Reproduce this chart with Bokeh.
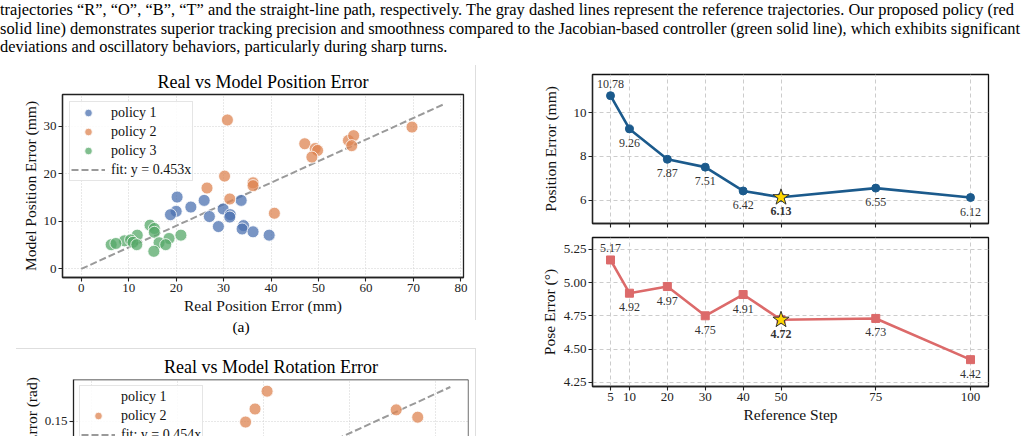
import math
from bokeh.plotting import figure
from bokeh.layouts import column, row
from bokeh.models import (Div, Spacer, FixedTicker, Legend, LegendItem, Span, Title,
                          ColumnDataSource, Grid, PrintfTickFormatter, CustomJSTickFormatter)
from bokeh.embed import file_html
from bokeh.resources import INLINE
from bokeh.core.properties import value

FONT = "Liberation Serif"

# ---------------- text ----------------
caption_lines = [
    "trajectories \u201cR\u201d, \u201cO\u201d, \u201cB\u201d, \u201cT\u201d and the straight-line path, respectively. The gray dashed lines represent the reference trajectories. Our proposed policy (red",
    "solid line) demonstrates superior tracking precision and smoothness compared to the Jacobian-based controller (green solid line), which exhibits significant",
    "deviations and oscillatory behaviors, particularly during sharp turns.",
]
sub_a_label = "(a)"

# ---------------- scatter (a): position error ----------------
pos_title = "Real vs Model Position Error"
p1_real = [20.2, 25.9, 33.7, 23.1, 20.0, 18.8, 29.9, 27.0, 31.4, 31.3, 28.9, 34.2, 33.9, 36.2, 39.6]
p1_model = [15.1, 14.4, 14.4, 13.0, 12.1, 11.4, 12.6, 11.0, 11.4, 10.9, 8.9, 9.1, 8.4, 7.8, 7.1]
p2_real = [30.8, 47.1, 49.3, 49.8, 48.6, 56.3, 57.4, 57.0, 69.7, 30.2, 26.5, 36.2, 36.2, 31.3, 40.7]
p2_model = [31.3, 26.3, 25.3, 24.9, 23.5, 27.0, 28.0, 25.9, 29.8, 19.5, 17.0, 18.1, 17.5, 14.7, 11.7]
p3_real = [14.5, 15.4, 15.4, 11.8, 21.0, 18.5, 9.1, 10.4, 10.9, 11.7, 16.4, 17.8, 6.3, 7.3, 15.3]
p3_model = [9.2, 8.5, 7.7, 7.1, 7.1, 6.4, 5.9, 6.1, 5.6, 5.1, 5.5, 5.1, 5.1, 5.35, 3.7]
pos_fit_slope = 0.453
pos_xticks = [0, 10, 20, 30, 40, 50, 60, 70, 80]
pos_yticks = [0, 10, 20, 30]

# ---------------- scatter (b): rotation error (visible part) ----------------
rot_title = "Real vs Model Rotation Error"
rot_ylabel = "Model Rotation Error (rad)"
rot_p1_real = []
rot_p1_model = []
rot_p2_real = [0.179, 0.190, 0.204, 0.354, 0.379]
rot_p2_model = [0.149, 0.164, 0.1845, 0.163, 0.1546]
rot_fit_slope = 0.454
rot_xticks = [0.0, 0.1, 0.2, 0.3, 0.4]
rot_yticks = [0.05, 0.10, 0.15]

# ---------------- line charts ----------------
steps = [5, 10, 20, 30, 40, 50, 75, 100]
pos_err = [10.78, 9.26, 7.87, 7.51, 6.42, 6.13, 6.55, 6.12]
pose_err = [5.17, 4.92, 4.97, 4.75, 4.91, 4.72, 4.73, 4.42]
best_idx = 5
pos_ticks = [6, 8, 10]
pose_ticks = [4.25, 4.50, 4.75, 5.00, 5.25]

C1, C2, C3 = "#4C72B0", "#DD8452", "#55A868"
BLUE_LINE = "#1b5a8c"
RED_LINE = "#dc6a6a"
TICK_SIZE = "13px"


def style_axis(ax, label_standoff=2, axis_label_standoff=3):
    ax.major_label_text_font = FONT
    ax.major_label_text_font_size = TICK_SIZE
    ax.major_label_text_color = "#222222"
    ax.major_label_standoff = label_standoff
    ax.axis_label_text_font = FONT
    ax.axis_label_text_font_size = "15.5px"
    ax.axis_label_text_font_style = "normal"
    ax.axis_label_text_color = "#111111"
    ax.axis_label_standoff = axis_label_standoff
    ax.major_tick_in = 0
    ax.major_tick_out = 4
    ax.minor_tick_line_color = None
    ax.axis_line_color = "#222222"
    ax.axis_line_width = 1.3
    ax.major_tick_line_color = "#222222"
    ax.major_tick_line_width = 1.1


def style_title(p, standoff):
    p.title.text_font = FONT
    p.title.text_font_size = "18px"
    p.title.text_font_style = "normal"
    p.title.text_color = "#000000"
    p.title.align = "center"
    p.title.standoff = standoff


def make_legend(items, margin):
    return Legend(items=items, location="top_left", margin=margin, padding=1, spacing=0,
                  label_height=19, glyph_height=19, glyph_width=34, label_standoff=6,
                  label_text_font=FONT, label_text_font_size="14px", label_text_color="#111111",
                  border_line_color="#cccccc", border_line_width=1,
                  background_fill_color="white", background_fill_alpha=0.85)


def dotted_grids(p, xt, yt):
    p.xgrid.ticker = FixedTicker(ticks=xt)
    p.ygrid.ticker = FixedTicker(ticks=yt)
    for g in (p.xgrid, p.ygrid):
        g.grid_line_color = "#d0d0d0"
        g.grid_line_dash = "1 2"
        g.grid_line_width = 1


# ======== figure (a) ========
pa = figure(width=475, height=262, x_range=(-3.95, 80.55), y_range=(-1.8, 36.65),
            output_backend="svg", toolbar_location=None, title=pos_title,
            min_border_left=62, min_border_right=12, min_border_top=36, min_border_bottom=43,
            x_axis_label="Real Position Error (mm)", y_axis_label="Model Position Error (mm)")
style_title(pa, 5)
pa.outline_line_color = "#222222"
pa.outline_line_width = 1.3
pa.xaxis.ticker = FixedTicker(ticks=pos_xticks)
pa.yaxis.ticker = FixedTicker(ticks=pos_yticks)
style_axis(pa.xaxis[0], 2, 2)
style_axis(pa.yaxis[0], 2, 2)
dotted_grids(pa, pos_xticks, pos_yticks)

all_real = p1_real + p2_real + p3_real
fit_x = [0, max(all_real) * 1.1]
fit_y = [pos_fit_slope * v for v in fit_x]
r_fit = pa.line(fit_x, fit_y, line_color="#9a9a9a", line_width=2, line_dash="7 3")
kw = dict(size=12, fill_alpha=0.75, line_color="white", line_width=0.8)
r1 = pa.scatter(p1_real, p1_model, fill_color=C1, **kw)
r2 = pa.scatter(p2_real, p2_model, fill_color=C2, **kw)
r3 = pa.scatter(p3_real, p3_model, fill_color=C3, **kw)
pa.add_layout(make_legend([
    LegendItem(label="policy 1", renderers=[r1]),
    LegendItem(label="policy 2", renderers=[r2]),
    LegendItem(label="policy 3", renderers=[r3]),
    LegendItem(label="fit: y = %.3fx" % pos_fit_slope, renderers=[r_fit]),
], 7))

# ======== figure (b), top part only ========
pb = figure(width=475, height=87, x_range=(-0.0209, 0.438), y_range=(0.1324, 0.1979),
            output_backend="svg", toolbar_location=None, title=rot_title,
            x_axis_location=None,
            min_border_left=73, min_border_right=7, min_border_top=30, min_border_bottom=0)
style_title(pb, 6)
pb.outline_line_color = None
pb.yaxis.ticker = FixedTicker(ticks=rot_yticks)
pb.yaxis.formatter = PrintfTickFormatter(format="%.2f")
style_axis(pb.yaxis[0], 2, 2)
if len(pb.xgrid) == 0:
    pb.add_layout(Grid(dimension=0, ticker=FixedTicker(ticks=rot_xticks)))
dotted_grids(pb, rot_xticks, rot_yticks)
pb.add_layout(Span(location=pb.y_range.end, dimension="width", line_color="#222222", line_width=1.3))
pb.add_layout(Span(location=pb.x_range.end, dimension="height", line_color="#222222", line_width=1.3))

rot_all = rot_p1_real + rot_p2_real
rfx = [0, max(rot_all) * 1.1]
rfy = [rot_fit_slope * v for v in rfx]
rb_fit = pb.line(rfx, rfy, line_color="#9a9a9a", line_width=2, line_dash="7 3")
rb1 = pb.scatter(rot_p1_real, rot_p1_model, fill_color=C1, **kw)
rb2 = pb.scatter(rot_p2_real, rot_p2_model, fill_color=C2, **kw)
pb.add_layout(make_legend([
    LegendItem(label="policy 1", renderers=[rb1]),
    LegendItem(label="policy 2", renderers=[rb2]),
    LegendItem(label="fit: y = %.3fx" % rot_fit_slope, renderers=[rb_fit]),
], 6))
# y-axis label of (b): its frame continues below the window, so it starts lower
pb.add_layout(Title(text=rot_ylabel, align="left", offset=-109, standoff=3,
                    text_font=FONT, text_font_size="15.5px", text_font_style="normal",
                    text_color="#111111"), "left")


# ======== right line charts ========
def line_chart(height, yr, border_top, border_bottom, vals, color, marker, yticks, fmt,
               ylabel, ylab_standoff, show_x):
    p = figure(width=521, height=height, x_range=(0.25, 104.75), y_range=yr,
               output_backend="svg", toolbar_location=None,
               min_border_left=92, min_border_right=33,
               min_border_top=border_top, min_border_bottom=border_bottom,
               y_axis_label=ylabel, x_axis_label=("Reference Step" if show_x else None))
    p.outline_line_color = "#111111"
    p.outline_line_width = 1.3
    p.xaxis.ticker = FixedTicker(ticks=steps)
    p.yaxis.ticker = FixedTicker(ticks=yticks)
    if fmt:
        p.yaxis.formatter = PrintfTickFormatter(format=fmt)
    style_axis(p.xaxis[0], 2, 2)
    style_axis(p.yaxis[0], 2, ylab_standoff)
    if not show_x:
        p.xaxis.formatter = CustomJSTickFormatter(code="return '';")
        p.xaxis.major_label_standoff = 0
    p.xgrid.ticker = FixedTicker(ticks=steps)
    p.ygrid.ticker = FixedTicker(ticks=yticks)
    for g in (p.xgrid, p.ygrid):
        g.grid_line_color = "#cccccc"
        g.grid_line_dash = "4 3"
        g.grid_line_width = 1
    p.line(steps, vals, line_color=color, line_width=2.6)
    p.scatter(steps, vals, marker=marker, size=8, fill_color=color, line_color=color)
    p.scatter([steps[best_idx]], [vals[best_idx]], marker="star", size=17,
              fill_color="#FFD700", line_color="#333333", line_width=1)
    labels = ["%.2f" % v for v in vals]
    above = ColumnDataSource(dict(x=steps[:1], y=vals[:1], t=labels[:1]))
    below_idx = [i for i in range(1, len(steps)) if i != best_idx]
    below = ColumnDataSource(dict(x=[steps[i] for i in below_idx], y=[vals[i] for i in below_idx],
                                  t=[labels[i] for i in below_idx]))
    best = ColumnDataSource(dict(x=[steps[best_idx]], y=[vals[best_idx]], t=[labels[best_idx]]))
    tk = dict(text="t", text_align="center", text_baseline="middle", text_font=value(FONT),
              text_font_size=value("12px"), text_color="#333333")
    p.text(x="x", y="y", source=above, y_offset=-12, **tk)
    p.text(x="x", y="y", source=below, y_offset=14, **tk)
    p.text(x="x", y="y", source=best, y_offset=14, text_font_style="bold", **tk)
    return p


pt = line_chart(172, (4.93, 11.75), 16, 7, pos_err, BLUE_LINE, "circle", pos_ticks, None,
                "Position Error (mm)", 12, False)
pl = line_chart(206, (4.218, 5.339), 7, 50, pose_err, RED_LINE, "square", pose_ticks, "%.2f",
                "Pose Error (\u00b0)", 3, True)

# ======== page layout ========
html = ('<div style="font-family:\'Liberation Serif\';font-size:16.4px;line-height:18.5px;'
        'color:#000;width:1014px;padding-top:1px;">'
        '<div style="text-align:justify;text-align-last:justify;white-space:nowrap;">%s</div>'
        '<div style="text-align:justify;text-align-last:justify;white-space:nowrap;">%s</div>'
        '<div style="white-space:nowrap;">%s</div></div>') % tuple(caption_lines)
top = Div(text=html, width=1021, height=58, margin=0)

gray = {"background-color": "#dedede"}
vA = column(Spacer(width=1, height=7, margin=0),
            Div(text="", width=1, height=255, styles=gray, margin=0))
rowA = row(pa, vA)
cap = Div(text='<div style="font-family:\'Liberation Serif\';font-size:15.5px;line-height:14px;'
               'text-align:center;width:476px;padding-left:6px;color:#000;">%s</div>' % sub_a_label,
          width=476, height=28, margin=0)
hline = row(Spacer(width=16, height=1, margin=0),
            Div(text="", width=460, height=1, styles=gray, margin=0))
rowB = row(pb, Div(text="", width=1, height=87, styles=gray, margin=0))
left = column(rowA, cap, hline, rowB)
right = column(pt, pl)
main = row(left, Spacer(width=24, height=10, margin=0), right)
page = column(top, main)

open("out.html", "w").write(file_html(page, INLINE))
